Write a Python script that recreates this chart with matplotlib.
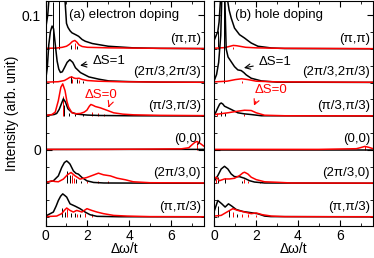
import numpy as np
import matplotlib
matplotlib.use('Agg')
from matplotlib import pyplot as plt
from matplotlib.ticker import MultipleLocator

plt.rcParams['font.family'] = ['Liberation Sans', 'DejaVu Sans']

# heights in units of 1e-3, relative to each row's baseline
labels = ['(π,π)', '(2π/3,2π/3)', '(π/3,π/3)', '(0,0)', '(2π/3,0)', '(π,π/3)']
offsets = [0.075, 0.05, 0.025, 0.0, -0.025, -0.05]

# ---- (a) electron doping ----
a_pipi_k = [(0, 15), (0.1, 25), (0.2, 45), (0.3, 80), (0.4, 130), (0.5, 180), (0.62, 220),
            (0.75, 120), (0.85, 60), (0.93, 36), (1.0, 19), (1.07, 16), (1.17, 13.5), (1.26, 12),
            (1.45, 10.5), (1.58, 9.4), (1.75, 7), (1.9, 5.7), (2.24, 4), (2.62, 3), (3.0, 2),
            (4.2, 0.8), (5.5, 0.4), (7.6, 0.2)]
a_pipi_r = [(0, 0.5), (0.5, 0.6), (0.8, 1.2), (1.0, 2), (1.15, 3.5), (1.28, 5.5), (1.4, 6.3),
            (1.5, 5), (1.6, 3), (1.75, 1.8), (2.0, 1.2), (3.0, 0.8), (5.0, 0.5), (7.6, 0.3)]
a_2p3_2p3_k = [(0, 2), (0.08, 11), (0.15, 28), (0.23, 38), (0.31, 42), (0.38, 40), (0.45, 30),
               (0.55, 16), (0.63, 10), (0.71, 7.5), (0.8, 8), (0.9, 11), (1.03, 15), (1.16, 17),
               (1.3, 15), (1.43, 11), (1.67, 7.4), (2.07, 4.2), (2.55, 2.5), (3.03, 1.2),
               (4.0, 0.7), (5.5, 0.3), (7.6, 0.2)]
a_2p3_2p3_r = [(0, 0.3), (0.6, 0.6), (0.9, 1.5), (1.05, 2.8), (1.15, 3.8), (1.25, 4.2),
               (1.35, 3.4), (1.45, 3), (1.6, 3.2), (1.75, 2.3), (2.0, 1.5), (2.5, 1),
               (3.5, 0.6), (5.0, 0.4), (7.6, 0.2)]
a_p3_p3_k = [(0, 0.5), (0.4, 1.2), (0.53, 2), (0.65, 5), (0.75, 9), (0.85, 12.9), (0.95, 10.5),
             (1.07, 5.5), (1.25, 2.8), (1.5, 1.5), (2.0, 0.8), (2.6, 0.5), (4.0, 0.3), (7.6, 0.1)]
a_p3_p3_r = [(0, 0.5), (0.3, 1.2), (0.46, 3), (0.61, 11.6), (0.73, 21.5), (0.82, 24),
             (0.93, 19), (1.02, 11), (1.1, 6.7), (1.26, 2.5), (1.45, 1.8), (1.66, 2), (1.85, 3),
             (1.98, 4.5), (2.1, 7.5), (2.17, 8.7), (2.28, 8), (2.38, 7.2), (2.62, 6.2),
             (2.97, 4.2), (3.26, 2.5), (3.7, 1.5), (4.22, 1), (5.5, 0.6), (7.6, 0.4)]
a_00_k = [(0, 0.2), (3.0, 0.3), (6.0, 0.3), (7.6, 0.3)]
a_00_r = [(0, 0.3), (3.0, 0.3), (5.0, 0.5), (6.5, 0.7), (6.86, 1.5), (7.0, 3.5), (7.15, 5.5),
          (7.26, 6.2), (7.4, 4.8), (7.6, 2.5)]
a_2p3_0_k = [(0, 0.7), (0.37, 1.9), (0.61, 5.6), (0.77, 11.8), (0.9, 15.5), (1.01, 16.7),
             (1.1, 15.5), (1.17, 14.3), (1.33, 9.3), (1.45, 7.5), (1.57, 6.9), (1.74, 4.4),
             (1.98, 1.9), (2.3, 0.7), (2.8, 0.3), (7.6, 0.1)]
a_2p3_0_r = [(0, 0.7), (0.15, 1.2), (0.29, 1.9), (0.45, 1.4), (0.61, 1.2), (0.85, 3.2),
             (1.05, 6.5), (1.22, 8.1), (1.41, 5.6), (1.65, 3.2), (1.98, 4.4), (2.29, 6.2),
             (2.53, 7.6), (2.77, 6.4), (3.1, 5.6), (3.42, 3.9), (3.82, 2.7), (4.2, 1.2),
             (5.0, 0.5), (7.6, 0.3)]
a_pip3_k = [(0, 0.7), (0.37, 3.7), (0.5, 8), (0.61, 12.3), (0.72, 15.5), (0.82, 17.2),
            (0.92, 16), (1.01, 14.8), (1.17, 9.8), (1.41, 8.1), (1.65, 6.2), (1.89, 3.7),
            (2.13, 1.7), (2.46, 0.5), (3.5, 0.2), (7.6, 0.1)]
a_pip3_r = [(0, 0.3), (0.53, 0.7), (0.77, 2.5), (0.9, 5), (1.01, 6.7), (1.17, 4.9),
            (1.33, 3.7), (1.49, 4.9), (1.74, 3.7), (1.98, 6.2), (2.21, 4.9), (2.46, 3.7),
            (2.77, 2.5), (3.26, 1.2), (3.9, 0.7), (5.0, 0.3), (7.6, 0.2)]

# sticks (position, height)
a_sticks_k = [[(0.65, 200), (1.2, 3), (1.5, 2.5)],
              [(0.34, 60), (1.2, 5), (1.5, 3), (1.8, 1.5)],
              [(0.9, 8), (1.1, 2), (1.4, 1.5), (1.8, 1.5)],
              [],
              [(1.03, 9.4), (1.19, 6), (1.45, 3), (1.7, 2)],
              [(0.77, 6.7), (0.95, 4), (1.2, 3), (1.4, 3), (1.65, 2)]]
a_sticks_r = [[(1.43, 4.5)],
              [(1.25, 3), (1.6, 2)],
              [(0.82, 15), (2.2, 3), (2.5, 2), (2.8, 1.5)],
              [(7.26, 6)],
              [(1.27, 6), (1.38, 4), (2.0, 1.5), (2.5, 2), (3.0, 1.5)],
              [(1.01, 6), (1.5, 2), (1.9, 3), (2.2, 2)]]

# ---- (b) hole doping ----
b_pipi_k = [(0, 7), (0.08, 10), (0.16, 13), (0.22, 20), (0.3, 40), (0.38, 90), (0.45, 160),
            (0.52, 80), (0.58, 45), (0.64, 35), (0.7, 29), (0.8, 23), (0.96, 15.5), (1.2, 10.6),
            (1.44, 8.1), (1.6, 6.2), (1.76, 4.4), (2.08, 2), (2.73, 0.7), (3.37, 0.3), (7.6, 0.1)]
b_pipi_r = [(0, 0.5), (0.5, 1), (0.75, 2), (0.9, 2.6), (1.05, 2.4), (1.2, 2), (1.5, 1.2),
            (2.0, 0.8), (3.0, 0.5), (7.6, 0.2)]
b_2p3_2p3_k = [(0, 2), (0.1, 6), (0.2, 15), (0.3, 35), (0.38, 80), (0.45, 150), (0.5, 60),
               (0.56, 25), (0.65, 19), (0.8, 15.5), (0.96, 11.8), (1.12, 9.4), (1.28, 8.9),
               (1.4, 7.5), (1.52, 5.7), (1.76, 3.2), (2.25, 1.2), (3.0, 0.3), (7.6, 0.1)]
b_2p3_2p3_r = [(0, 0.5), (0.6, 1), (1.0, 2.2), (1.3, 2.8), (1.6, 2.2), (2.0, 1), (3.0, 0.5),
               (7.6, 0.2)]
b_p3_p3_k = [(0, 0.7), (0.16, 6.2), (0.25, 9), (0.32, 9.8), (0.4, 9), (0.48, 7.4), (0.8, 5),
             (1.12, 2.5), (1.44, 1.7), (1.76, 1.2), (2.25, 0.3), (7.6, 0.1)]
b_p3_p3_r = [(0, 1.2), (0.3, 1.8), (0.64, 2.5), (1.12, 3.7), (1.44, 4.4), (1.76, 4.2),
             (2.0, 2.5), (2.4, 0.7), (3.37, 0.3), (7.6, 0.2)]
b_00_k = [(0, 0.2), (7.6, 0.2)]
b_00_r = [(0, 0.3), (5.0, 0.3), (6.8, 0.8), (7.0, 1.6), (7.21, 2.5), (7.4, 1.8), (7.6, 0.8)]
b_2p3_0_k = [(0, 2), (0.16, 5.8), (0.32, 10.7), (0.48, 12.7), (0.64, 10.7), (0.8, 7), (0.96, 5),
             (1.2, 5), (1.44, 3.8), (1.68, 2), (1.92, 1), (2.4, 0.3), (7.6, 0.1)]
b_2p3_0_r = [(0, 3.8), (0.08, 4.6), (0.24, 2), (0.48, 3.3), (0.72, 3.3), (0.96, 3.8),
             (1.2, 5.8), (1.36, 7.8), (1.44, 8.3), (1.6, 7), (1.76, 4.6), (2.0, 2.8),
             (2.4, 1.2), (3.05, 0.8), (3.7, 0.3), (7.6, 0.2)]
b_pip3_k = [(0, 4.9), (0.16, 12.3), (0.35, 9.8), (0.51, 7.4), (0.67, 9.8), (0.83, 8.1),
            (1.04, 5.6), (1.36, 4.1), (1.76, 3.2), (2.08, 2.4), (2.4, 0.7), (2.7, 0.3), (7.6, 0.1)]
b_pip3_r = [(0, 0.7), (0.32, 1.2), (0.64, 4.1), (0.88, 6.2), (1.12, 4.9), (1.44, 3.7),
            (1.76, 2.5), (2.0, 3), (2.3, 1.7), (2.73, 0.7), (3.37, 0.3), (7.6, 0.2)]

b_sticks_k = [[(0.18, 13), (0.46, 200)],
              [(0.45, 200)],
              [(0.3, 4), (0.5, 2)],
              [],
              [(0.18, 5), (0.5, 4), (1.3, 2)],
              [(0.15, 8), (0.7, 5), (1.1, 2)]]
b_sticks_r = [[(0.9, 1.5)],
              [(1.3, 1.5)],
              [(0.1, 2), (1.4, 1.5)],
              [(7.21, 2.5)],
              [(0.05, 3), (1.4, 3), (1.6, 2), (2.2, 1)],
              [(0.9, 4), (1.3, 2), (1.6, 2), (2.0, 1.5)]]

a_black = [a_pipi_k, a_2p3_2p3_k, a_p3_p3_k, a_00_k, a_2p3_0_k, a_pip3_k]
a_red = [a_pipi_r, a_2p3_2p3_r, a_p3_p3_r, a_00_r, a_2p3_0_r, a_pip3_r]
b_black = [b_pipi_k, b_2p3_2p3_k, b_p3_p3_k, b_00_k, b_2p3_0_k, b_pip3_k]
b_red = [b_pipi_r, b_2p3_2p3_r, b_p3_p3_r, b_00_r, b_2p3_0_r, b_pip3_r]


def draw(ax, blacks, reds, sk, sr):
    for i in range(len(offsets)):
        off = offsets[i]
        for st, col in [(sk[i], 'k'), (sr[i], 'r')]:
            if st:
                p, h = zip(*st)
                ax.vlines(p, off, off + np.array(h) * 1e-3, color=col, lw=0.7)
        x, y = zip(*blacks[i])
        ax.plot(x, off + np.array(y) * 1e-3, color='k', lw=1.1)
        x, y = zip(*reds[i])
        ax.plot(x, off + np.array(y) * 1e-3, color='r', lw=1.1)
        ax.text(7.45, off + 0.0077, labels[i], ha='right', va='center', fontsize=9.5)
    ax.set_xlim(0, 7.6)
    ax.set_ylim(-0.0565, 0.111)
    ax.xaxis.set_major_locator(MultipleLocator(2))
    ax.xaxis.set_minor_locator(MultipleLocator(1))
    ax.set_yticks([0, 0.1])
    ax.yaxis.set_minor_locator(MultipleLocator(0.0125))
    ax.tick_params(which='both', direction='in', top=True, right=True, labelsize=10)
    ax.tick_params(which='major', length=4)
    ax.tick_params(which='minor', length=2)
    ax.tick_params(axis='x', pad=2.5)
    ax.set_xlabel('Δω/t', fontsize=10, labelpad=-1)


fig = plt.figure(figsize=(3.74, 2.58), dpi=100)
ax1 = fig.add_axes([0.122, 0.125, 0.424, 0.873])
ax2 = fig.add_axes([0.5735, 0.125, 0.424, 0.873])

draw(ax1, a_black, a_red, a_sticks_k, a_sticks_r)
draw(ax2, b_black, b_red, b_sticks_k, b_sticks_r)

ax1.set_yticklabels(['0', '0.1'])
ax2.set_yticklabels([])
ax1.set_ylabel('Intensity (arb. unit)', fontsize=10, labelpad=2)

ax1.text(1.1, 0.1005, '(a) electron doping', va='center', fontsize=9.5)
ax2.text(0.96, 0.1005, '(b) hole doping', va='center', fontsize=9.5)

arr = dict(arrowstyle='->', lw=0.8)
ax1.annotate('ΔS=1', xy=(1.52, 0.0624), xytext=(2.25, 0.066), va='center', fontsize=9.5,
             arrowprops=dict(arr, color='k'))
ax1.annotate('ΔS=0', xy=(2.97, 0.0296), xytext=(2.66, 0.041), ha='center', va='center',
             fontsize=9.5, color='r', arrowprops=dict(arr, color='r', relpos=(0.8, 0)))
ax2.annotate('ΔS=1', xy=(1.28, 0.0605), xytext=(2.12, 0.0654), va='center', fontsize=9.5,
             arrowprops=dict(arr, color='k'))
ax2.annotate('ΔS=0', xy=(1.84, 0.0309), xytext=(2.72, 0.0444), ha='center', va='center',
             fontsize=9.5, color='r', arrowprops=dict(arr, color='r', relpos=(0.1, 0)))

fig.savefig('out.png', dpi=100)
